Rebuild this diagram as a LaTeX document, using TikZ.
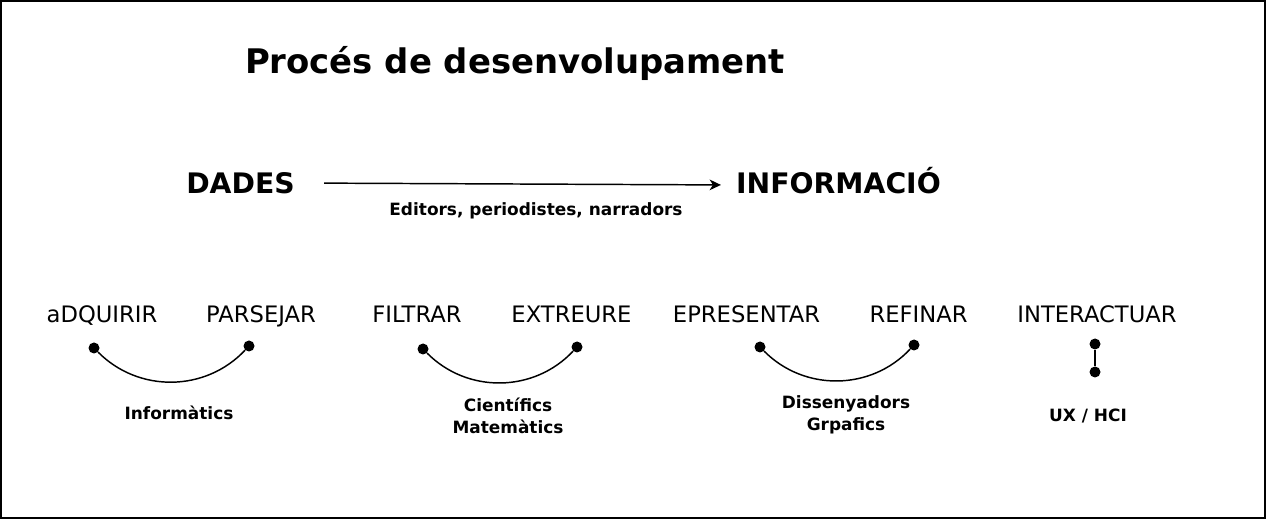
\documentclass[tikz,border=0pt]{standalone}
\usepackage{fontspec}
\setmainfont{DejaVu Sans}
\usetikzlibrary{arrows.meta}

\begin{document}
\begin{tikzpicture}[x=0.75pt, y=0.75pt]

  \tikzstyle{step word} = [font=\fontsize{17}{18}\selectfont, inner sep=0pt, anchor=base]
  \tikzstyle{big} = [font=\bfseries\fontsize{21.2}{24}\selectfont, inner sep=0pt, anchor=base]
  \tikzstyle{who} = [font=\bfseries\fontsize{12.7}{16.5}\selectfont, align=center, inner sep=0pt]
  \tikzstyle{dot} = [circle, fill, inner sep=0pt, minimum size=8.25pt]
  \tikzstyle{link} = [line width=1.1pt]

    \useasboundingbox (0,0) rectangle (1270,521);
    \draw[line width=1.2pt] (1,3) rectangle (1265,520);

    \node[font=\bfseries\fontsize{25.4}{30}\selectfont, inner sep=0pt, anchor=base] (title) at (515,447) {Procés de desenvolupament};

    \node[big] (dades) at (240.5,327) {DADES};
    \node[big] (info) at (838.5,327) {INFORMACIÓ};
    \draw[link, -{Stealth[length=8.5pt, width=8pt, inset=2.5pt]}, shorten <=21.75pt, shorten >=11.25pt] ([yshift=8.25pt]dades.base east) -- ([yshift=6.75pt]info.base west);
    \node[who] (editors) at (536,310) {Editors, periodistes, narradors};

    \node[step word] (adq) at (102,198) {aDQUIRIR};
    \node[step word] (pars) at (261,198) {PARSEJAR};
    \node[step word] (filt) at (417,198) {FILTRAR};
    \node[step word] (extr) at (571.5,198) {EXTREURE};
    \node[step word] (repr) at (746.5,198) {EPRESENTAR};
    \node[step word] (ref) at (918.5,198) {REFINAR};
    \node[step word] (inter) at (1097,198) {INTERACTUAR};

    % informatics
    \node[dot] (a1) at (94,173) {};
    \node[dot] (a2) at (249,175) {}
    edge[link, bend left=46] (a1);
    \node[who] (inf) at (179,108) {Informàtics};

    % scientists
    \node[dot] (b1) at (423,172) {};
    \node[dot] (b2) at (577,174) {}
    edge[link, bend left=46] (b1);
    \node[who] (cie) at (508,105) {Científics\\Matemàtics};

    % designers
    \node[dot] (c1) at (760,174) {};
    \node[dot] (c2) at (914,176) {}
    edge[link, bend left=46] (c1);
    \node[who] (dis) at (846,106.5) {Dissenyadors\\Grpafics};

    % ux
    \node[dot] (u1) at (1095,177) {};
    \node[dot] (u2) at (1095,149) {}
    edge[link] (u1);
    \node[who] (ux) at (1088,105) {UX / HCI};
\end{tikzpicture}
\end{document}
